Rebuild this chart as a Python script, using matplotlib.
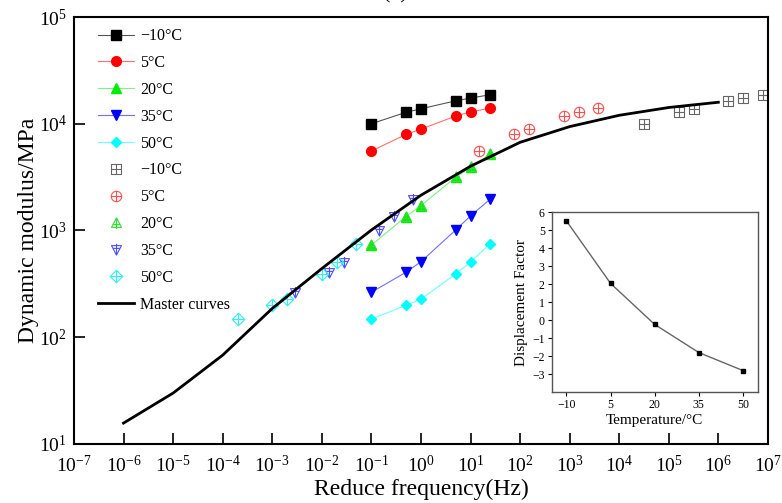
import numpy as np
import matplotlib
matplotlib.use("Agg")
import matplotlib.pyplot as plt
from matplotlib.path import Path
from matplotlib.ticker import LogLocator, NullLocator, LogFormatterSciNotation

plt.rcParams['font.family'] = ['Liberation Serif', 'DejaVu Serif']
plt.rcParams['mathtext.fontset'] = 'stix'

# measured frequencies (Hz)
freq = [0.1, 0.5, 1, 5, 10, 25]
temp_labels = ['\u221210\u00b0C', '5\u00b0C', '20\u00b0C', '35\u00b0C', '50\u00b0C']

# dynamic modulus (MPa) at each temperature
E_m10 = [10000, 12800, 13800, 16400, 17400, 18700]
E_5 = [5550, 7950, 8900, 11800, 12900, 14000]
E_20 = [730, 1350, 1710, 3150, 3900, 5200]
E_35 = [264, 406, 510, 1010, 1370, 1970]
E_50 = [148, 199, 227, 392, 507, 755]

# log shift used for the shifted points in the main plot
shift_plot = [5.5, 2.18, 0.0, -1.55, -2.7]

# master curve
logf_master = [-6, -5, -4, -3, -2, -1, 0, 1, 2, 3, 4, 5, 6]
E_master = [15.7, 30, 68, 186, 440, 1010, 2140, 4000, 6700, 9400, 12000, 14200, 15900]

# inset: displacement factor
temp_c = [-10, 5, 20, 35, 50]
disp_factor = [5.52, 2.05, -0.23, -1.79, -2.79]

moduli = [E_m10, E_5, E_20, E_35, E_50]
filled_colors = ['black', 'red', '#00ee00', '#0000ff', '#00ffff']
line_colors = ['#555555', '#ff7070', '#80f080', '#7070ff', '#70ffff']
open_colors = ['#666666', '#ff5050', '#30e030', '#5050ff', '#30f0f0']
filled_markers = ['s', 'o', '^', 'v', 'D']
filled_sizes = [6.5, 7, 7.5, 7.5, 5.5]


def cross_marker(shape):
    M, L, C = Path.MOVETO, Path.LINETO, Path.CLOSEPOLY
    if shape == 's':
        v = [(-1, -1), (1, -1), (1, 1), (-1, 1), (-1, -1),
             (-1, 0), (1, 0), (0, -1), (0, 1)]
        c = [M, L, L, L, C, M, L, M, L]
        return Path(v, c)
    if shape == 'o':
        circ = Path.unit_circle()
        plus = Path([(-1, 0), (1, 0), (0, -1), (0, 1)], [M, L, M, L])
        return Path.make_compound_path(circ, plus)
    if shape == '^':
        v = [(0, 1), (-0.9, -0.7), (0.9, -0.7), (0, 1),
             (0, 1), (0, -1), (-0.6, -0.2), (0.6, -0.2)]
        c = [M, L, L, C, M, L, M, L]
        return Path(v, c)
    if shape == 'v':
        v = [(0, -1), (-0.9, 0.7), (0.9, 0.7), (0, -1),
             (0, -1), (0, 1), (-0.6, 0.2), (0.6, 0.2)]
        c = [M, L, L, C, M, L, M, L]
        return Path(v, c)
    v = [(0, 1), (1, 0), (0, -1), (-1, 0), (0, 1),
         (-1, 0), (1, 0), (0, -1), (0, 1)]
    c = [M, L, L, L, C, M, L, M, L]
    return Path(v, c)


open_sizes = [7, 7.5, 8, 8, 9]

fig = plt.figure(figsize=(7.82, 5.03), dpi=100)
ax = fig.add_axes([0.0946, 0.1173, 0.8874, 0.8489])

for i in range(5):
    ax.plot(freq, moduli[i], color=line_colors[i], lw=0.8,
            marker=filled_markers[i], ms=filled_sizes[i],
            mfc=filled_colors[i], mec=filled_colors[i], label=temp_labels[i])

for i in range(5):
    f_shift = np.array(freq) * 10 ** shift_plot[i]
    ax.plot(f_shift, moduli[i], ls='none', marker=cross_marker(filled_markers[i]),
            ms=open_sizes[i], mfc='none', mec=open_colors[i], mew=0.8,
            label=temp_labels[i])

ax.plot(10.0 ** np.array(logf_master), E_master, color='black', lw=2,
        label='Master curves', zorder=5)

ax.set_xscale('log')
ax.set_yscale('log')
ax.set_xlim(1e-7, 1e7)
ax.set_ylim(10, 1e5)
ax.xaxis.set_major_locator(LogLocator(base=10, numticks=20))
ax.yaxis.set_major_locator(LogLocator(base=10, numticks=10))
ax.xaxis.set_minor_locator(NullLocator())
ax.yaxis.set_minor_locator(NullLocator())
ax.xaxis.set_major_formatter(LogFormatterSciNotation())
ax.tick_params(direction='in', length=8, width=1.2, labelsize=14)
ax.tick_params(axis='x', pad=8)
ax.tick_params(axis='y', pad=5)
ax.tick_params(top=False, right=False)
for s in ax.spines.values():
    s.set_linewidth(1.5)

ax.set_xlabel('Reduce frequency(Hz)', fontsize=17, labelpad=2)
ax.set_ylabel('Dynamic modulus/MPa', fontsize=17, labelpad=0)

ax.legend(loc='upper left', frameon=False, fontsize=11.5, handlelength=2.3,
          handletextpad=0.35, labelspacing=0.68, borderaxespad=0.3,
          bbox_to_anchor=(0.018, 1.0))

fig.text(0.505, 1.013, '(a)', ha='center', va='center', fontsize=16)

# inset
ins = fig.add_axes([0.7055, 0.22, 0.2634, 0.358])
ins.plot(temp_c, disp_factor, color='#666666', lw=1, marker='s', ms=3.5,
         mfc='black', mec='black')
ins.set_xlim(-15, 55)
ins.set_ylim(-4, 6)
ins.set_xticks(temp_c)
ins.set_xticklabels(['\u221210', '5', '20', '35', '50'])
ins.set_yticks(range(-3, 7))
ins.set_yticklabels([('\u2212%d' % -v) if v < 0 else str(v) for v in range(-3, 7)])
ins.tick_params(direction='out', length=3, labelsize=8.5, pad=2)
for s in ins.spines.values():
    s.set_color('#555555')
    s.set_linewidth(1)
ins.set_xlabel('Temperature/\u00b0C', fontsize=11, labelpad=2)
ins.set_ylabel('Displacement Factor', fontsize=11, labelpad=3)

fig.savefig('out.png', dpi=100)
